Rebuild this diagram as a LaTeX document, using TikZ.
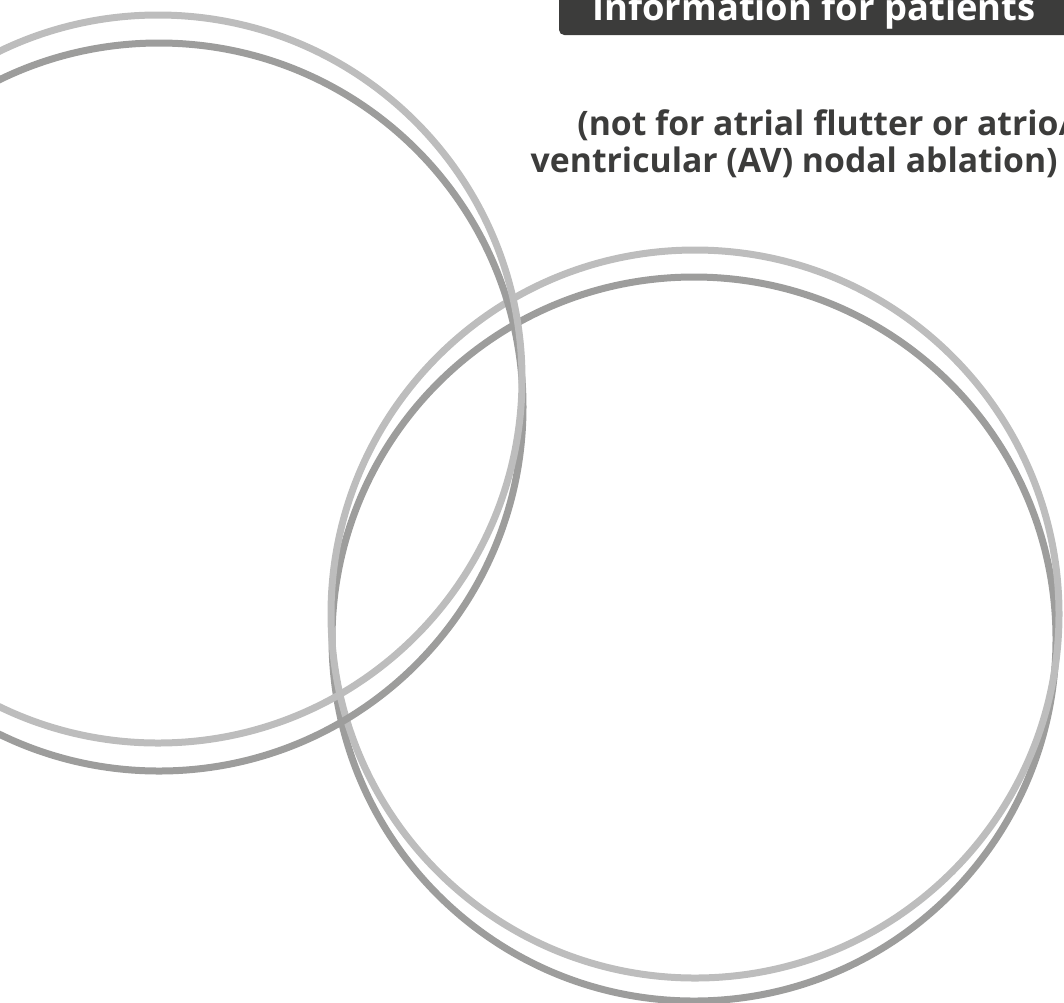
\documentclass[tikz,border=0pt]{standalone}
\usepackage{fontspec}
\setmainfont{Open Sans}
\usepackage{xcolor}
\usepackage{tikz}
\definecolor{ringlight}{RGB}{189,189,189}
\definecolor{ringdark}{RGB}{157,157,156}
\definecolor{infodark}{RGB}{60,60,59}

\begin{document}
\begin{tikzpicture}[x=0.02cm,y=-0.02cm,
    ring/.style={line width=0.14cm},
    lightring/.style={ring,draw=ringlight},
    darkring/.style={ring,draw=ringdark},
    banner/.style={fill=infodark,rounded corners=3pt},
    bannertext/.style={text=white,inner sep=0pt,
                       font=\bfseries\fontsize{20.7}{24}\selectfont},
    note/.style={text=infodark,inner sep=0pt,
                 font=\bfseries\fontsize{19.2}{21}\selectfont}
  ]
    \useasboundingbox (0,0) rectangle (1064,1002);
    \clip (0,0) rectangle (1064,1002);
    % rings
    \draw[darkring] (694,639) circle (362);
    \draw[lightring] (695,614) circle (364);
    \draw[darkring] (159,407) circle (364);
    \draw[lightring] (158,379) circle (364);
    % header
    \fill[banner] (559,-30) rectangle (1100,35);
    \node[bannertext,anchor=base west] (info) at (592,20) {Information for patients};
    \node[note,anchor=base west] (note1) at (577,135) {(not for atrial flutter or atrio/};
    \node[note,anchor=base east] (note2) at (1058,172) {ventricular (AV) nodal ablation)};
  \end{tikzpicture}
\end{document}
